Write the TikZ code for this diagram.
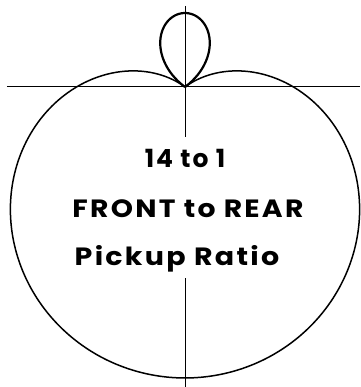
\documentclass[tikz,border=0pt]{standalone}
\usepackage{fontspec}
\newfontfamily\ratiofont[LetterSpace=8]{Poppins}
\begin{document}
\begin{tikzpicture}[x=1pt, y=1pt, font=\ratiofont\bfseries\fontsize{25}{30}\selectfont,
		caption/.style={anchor=base, inner sep=0pt}]
	% Frame
	\useasboundingbox (-185,-300) rectangle (175,87);
	
	% Axes
	\coordinate (O) at (0,0);
	\coordinate (L) at (-178,0);
	\coordinate (R) at (175,0);
	\coordinate (T) at (0,81);
	\coordinate (M1) at (0,-50);
	\coordinate (M2) at (0,-191);
	\coordinate (B) at (0,-300);
	\draw[line width=1pt] (L) -- (R);
	\draw[line width=0.8pt] (T) -- (M1);
	\draw[line width=0.8pt] (M2) -- (B);
	
	% Front lobe
	\draw[line width=1.5pt, smooth, samples=120, domain=-126.5:126.5]
		plot ({abs(108.5+182.5*cos(\x))*sin(\x)}, {-abs(108.5+182.5*cos(\x))*cos(\x)});
	% Rear lobe
	\draw[line width=2.2pt, smooth, samples=60, domain=126.5:233.5]
		plot ({abs(108.5+182.5*cos(\x))*sin(\x)}, {-abs(108.5+182.5*cos(\x))*cos(\x)});
	
	% Labels
	\node[caption] (ratio) at (0,-81) {14 to 1};
	\node[caption, xscale=1.13] (front) at (3,-130) {FRONT to REAR};
	\node[caption, xscale=1.14] (pickup) at (-8,-178) {Pickup Ratio};
\end{tikzpicture}
\end{document}
